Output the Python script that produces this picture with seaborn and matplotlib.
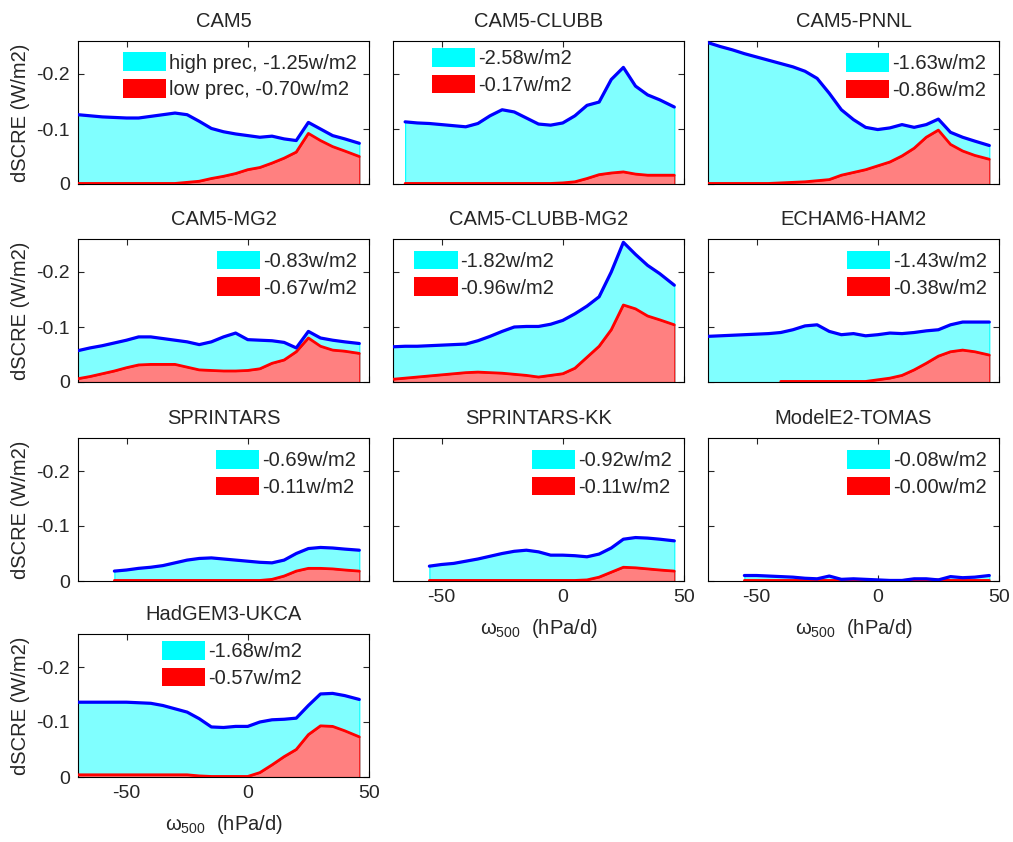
import numpy as np
import pandas as pd
import matplotlib
matplotlib.use("Agg")
import matplotlib.pyplot as plt
from matplotlib.patches import Patch
import seaborn as sns

nan = np.nan

# omega500 bins (hPa/d)
OMEGA = [-70, -65, -60, -55, -50, -45, -40, -35, -30, -25, -20, -15,
         -10, -5, 0, 5, 10, 15, 20, 25, 30, 35, 40, 46]

MODELS = ["CAM5", "CAM5-CLUBB", "CAM5-PNNL", "CAM5-MG2", "CAM5-CLUBB-MG2",
          "ECHAM6-HAM2", "SPRINTARS", "SPRINTARS-KK", "ModelE2-TOMAS",
          "HadGEM3-UKCA"]

HIGH_TOTAL = [-1.25, -2.58, -1.63, -0.83, -1.82, -1.43, -0.69, -0.92, -0.08, -1.68]
LOW_TOTAL = [-0.70, -0.17, -0.86, -0.67, -0.96, -0.38, -0.11, -0.11, -0.00, -0.57]

cam5_high = [-0.126, -0.124, -0.122, -0.121, -0.120, -0.120, -0.123, -0.126, -0.129, -0.126, -0.114, -0.101,
             -0.095, -0.091, -0.088, -0.085, -0.087, -0.082, -0.079, -0.112, -0.100, -0.088, -0.082, -0.074]
cam5_low = [-0.001, -0.001, -0.001, -0.001, -0.001, -0.001, -0.001, -0.001, -0.001, -0.003, -0.005, -0.010,
            -0.014, -0.019, -0.026, -0.030, -0.038, -0.047, -0.058, -0.092, -0.079, -0.068, -0.060, -0.050]

clubb_high = [nan, -0.113, -0.111, -0.110, -0.108, -0.106, -0.104, -0.110, -0.124, -0.135, -0.131, -0.120,
              -0.109, -0.107, -0.111, -0.124, -0.143, -0.149, -0.190, -0.212, -0.178, -0.162, -0.153, -0.140]
clubb_low = [nan, -0.001, -0.001, -0.001, -0.001, -0.001, -0.001, -0.001, -0.001, -0.001, -0.001, -0.001,
             -0.001, -0.001, -0.002, -0.004, -0.010, -0.017, -0.020, -0.022, -0.018, -0.016, -0.016, -0.016]

pnnl_high = [-0.257, -0.250, -0.244, -0.237, -0.231, -0.225, -0.219, -0.213, -0.205, -0.192, -0.165, -0.135,
             -0.117, -0.103, -0.099, -0.102, -0.108, -0.103, -0.108, -0.118, -0.094, -0.085, -0.078, -0.070]
pnnl_low = [-0.001, -0.001, -0.001, -0.001, -0.001, -0.001, -0.002, -0.003, -0.004, -0.006, -0.008, -0.016,
            -0.021, -0.026, -0.033, -0.040, -0.051, -0.065, -0.085, -0.098, -0.072, -0.060, -0.052, -0.045]

mg2_high = [-0.057, -0.062, -0.066, -0.071, -0.076, -0.082, -0.082, -0.079, -0.076, -0.073, -0.068, -0.073,
            -0.082, -0.089, -0.077, -0.076, -0.075, -0.072, -0.062, -0.092, -0.080, -0.076, -0.073, -0.070]
mg2_low = [-0.006, -0.010, -0.015, -0.020, -0.026, -0.031, -0.032, -0.032, -0.032, -0.027, -0.022, -0.021,
           -0.020, -0.020, -0.021, -0.024, -0.034, -0.040, -0.055, -0.080, -0.065, -0.058, -0.056, -0.052]

clubbmg2_high = [-0.064, -0.065, -0.065, -0.066, -0.067, -0.068, -0.069, -0.075, -0.083, -0.092, -0.100, -0.101,
                 -0.101, -0.105, -0.112, -0.124, -0.138, -0.155, -0.200, -0.254, -0.232, -0.212, -0.197, -0.176]
clubbmg2_low = [-0.005, -0.007, -0.009, -0.011, -0.013, -0.015, -0.017, -0.018, -0.017, -0.016, -0.014, -0.012,
                -0.009, -0.012, -0.015, -0.025, -0.045, -0.065, -0.095, -0.140, -0.133, -0.120, -0.113, -0.104]

echam_high = [-0.083, -0.084, -0.085, -0.086, -0.087, -0.088, -0.090, -0.095, -0.102, -0.104, -0.092, -0.086,
              -0.088, -0.084, -0.086, -0.089, -0.088, -0.090, -0.093, -0.095, -0.104, -0.109, -0.109, -0.109]
echam_low = [nan, nan, nan, nan, nan, nan, -0.001, -0.001, -0.001, -0.001, -0.001, -0.001,
             -0.001, -0.001, -0.004, -0.007, -0.012, -0.022, -0.034, -0.047, -0.055, -0.058, -0.055, -0.049]

spr_high = [nan, nan, nan, -0.018, -0.020, -0.023, -0.025, -0.028, -0.033, -0.038, -0.041, -0.042,
            -0.040, -0.038, -0.036, -0.034, -0.033, -0.038, -0.050, -0.059, -0.061, -0.060, -0.058, -0.056]
spr_low = [nan, nan, nan, -0.001, -0.001, -0.001, -0.001, -0.001, -0.001, -0.001, -0.001, -0.001,
           -0.001, -0.001, -0.001, -0.001, -0.003, -0.009, -0.018, -0.023, -0.023, -0.022, -0.020, -0.018]

sprkk_high = [nan, nan, nan, -0.027, -0.030, -0.032, -0.036, -0.040, -0.045, -0.050, -0.054, -0.056,
              -0.053, -0.047, -0.047, -0.046, -0.044, -0.049, -0.060, -0.076, -0.079, -0.078, -0.076, -0.073]
sprkk_low = [nan, nan, nan, -0.001, -0.001, -0.001, -0.001, -0.001, -0.001, -0.001, -0.001, -0.001,
             -0.001, -0.001, -0.001, -0.001, -0.002, -0.007, -0.016, -0.025, -0.024, -0.022, -0.020, -0.018]

tomas_high = [nan, nan, nan, -0.010, -0.010, -0.009, -0.008, -0.007, -0.005, -0.004, -0.009, -0.003,
              -0.004, -0.003, -0.002, -0.001, -0.001, -0.004, -0.004, -0.002, -0.008, -0.006, -0.007, -0.010]
tomas_low = [nan, nan, nan, -0.001, -0.001, -0.001, -0.001, -0.001, -0.001, -0.001, -0.001, -0.001,
             -0.001, -0.001, -0.001, -0.001, -0.001, -0.002, -0.002, -0.002, -0.001, -0.001, -0.001, -0.001]

had_high = [-0.136, -0.136, -0.136, -0.136, -0.136, -0.135, -0.134, -0.130, -0.124, -0.118, -0.106, -0.091,
            -0.090, -0.092, -0.092, -0.100, -0.104, -0.105, -0.107, -0.130, -0.151, -0.152, -0.148, -0.141]
had_low = [-0.004, -0.004, -0.004, -0.004, -0.004, -0.004, -0.004, -0.004, -0.004, -0.004, -0.002, -0.001,
           -0.001, -0.001, -0.001, -0.008, -0.022, -0.037, -0.050, -0.077, -0.093, -0.092, -0.084, -0.073]

HIGH = [cam5_high, clubb_high, pnnl_high, mg2_high, clubbmg2_high, echam_high,
        spr_high, sprkk_high, tomas_high, had_high]
LOW = [cam5_low, clubb_low, pnnl_low, mg2_low, clubbmg2_low, echam_low,
       spr_low, sprkk_low, tomas_low, had_low]

YTICKS = [-0.2, -0.1, 0]
YTICK_LABELS = ["-0.2", "-0.1", "0"]
XTICKS = [-50, 0, 50]
XTICK_LABELS = ["-50", "0", "50"]

# ---- style ----
sns.set_style("ticks")
plt.rcParams["font.family"] = ["Liberation Sans", "DejaVu Sans"]
plt.rcParams["mathtext.fontset"] = "custom"
plt.rcParams["mathtext.rm"] = "Liberation Sans"
plt.rcParams["mathtext.it"] = "Liberation Sans"

fig = plt.figure(figsize=(10.13, 8.42), dpi=100)

W, H = 1013.0, 842.0
col_left = [78, 393, 708]
row_bottom = [184, 382, 581, 777]
ax_w, ax_h = 291, 143

# legend anchor (upper-left, axes fraction) per panel
leg_anchor = [(0.155, 0.92), (0.134, 0.95), (0.474, 0.915), (0.478, 0.918),
              (0.073, 0.918), (0.478, 0.918), (0.473, 0.917), (0.478, 0.917),
              (0.478, 0.917), (0.289, 0.95)]

for i, name in enumerate(MODELS):
    r, c = divmod(i, 3)
    ax = fig.add_axes([col_left[c] / W, 1 - row_bottom[r] / H, ax_w / W, ax_h / H])
    df = pd.DataFrame({"omega": OMEGA, "high": HIGH[i], "low": LOW[i]})

    ax.fill_between(df["omega"], 0, df["high"], color="#80ffff", edgecolor="#00ffff", lw=0.8, zorder=1)
    ax.fill_between(df["omega"], 0, df["low"], color="#ff8080", edgecolor="#ff0000", lw=0.8, zorder=2)
    sns.lineplot(data=df, x="omega", y="low", color="#ff0000", lw=2.0, ax=ax, zorder=3)
    sns.lineplot(data=df, x="omega", y="high", color="#0000ff", lw=2.3, ax=ax, zorder=4)

    ax.set_xlim(-70, 50)
    ax.set_ylim(0, -0.26)
    ax.set_xticks(XTICKS)
    ax.set_yticks(YTICKS)
    ax.tick_params(direction="in", length=4, width=0.8, top=True, right=True,
                   labelsize=14, pad=6)
    for s in ax.spines.values():
        s.set_linewidth(0.8)
        s.set_color("black")

    if c == 0:
        ax.set_yticklabels(YTICK_LABELS)
        ax.set_ylabel("dSCRE (W/m2)", fontsize=14.5, labelpad=4)
    else:
        ax.set_yticklabels([])
        ax.set_ylabel("")

    bottom_panel = (c == 0 and r == 3) or (c > 0 and r == 2)
    if bottom_panel:
        ax.set_xticklabels(XTICK_LABELS)
        ax.set_xlabel("ω$_{500}$  (hPa/d)", fontsize=14.5, labelpad=8)
    else:
        ax.set_xticklabels([])
        ax.set_xlabel("")

    ax.set_title(name, fontsize=14.5, pad=10)

    if i == 0:
        labels = [f"high prec, {HIGH_TOTAL[i]:.2f}w/m2", f"low prec, {LOW_TOTAL[i]:.2f}w/m2"]
    else:
        labels = [f"{HIGH_TOTAL[i]:.2f}w/m2", f"{LOW_TOTAL[i]:.2f}w/m2"]
    handles = [Patch(facecolor="#00ffff", edgecolor="none"),
               Patch(facecolor="#ff0000", edgecolor="none")]
    ax.legend(handles, labels, loc="upper left", bbox_to_anchor=leg_anchor[i],
              frameon=False, fontsize=14.5, handlelength=2.15, handleheight=1.05,
              handletextpad=0.15, labelspacing=0.32, borderpad=0, borderaxespad=0)

fig.savefig("out.png", dpi=100)
